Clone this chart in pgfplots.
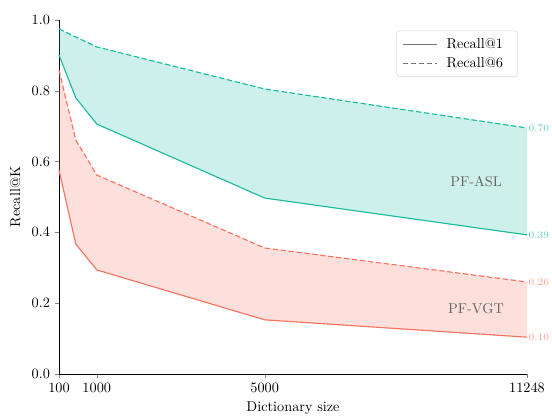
\documentclass[border=0pt]{standalone}
\usepackage{pgfplots}
\pgfplotsset{compat=1.18}
\usepgfplotslibrary{fillbetween}

\definecolor{asl}{RGB}{26,188,160}
\definecolor{vgt}{RGB}{248,114,96}
\definecolor{lbl}{RGB}{100,100,100}

\begin{document}
\begin{tikzpicture}
\begin{axis}[
    name=ax,
    scale only axis,
    width=327.6pt, height=247.8pt,
    xmin=100, xmax=11248,
    ymin=0, ymax=1,
    clip=false,
    axis x line*=bottom, axis y line*=left,
    axis line style={-, line width=0.6pt},
    tick align=outside,
    major tick length=2.8pt,
    xtick={100,1000,5000,11248},
    ytick={0,0.2,0.4,0.6,0.8,1.0},
    scaled x ticks=false,
    x tick label style={/pgf/number format/set thousands separator={}},
    y tick label style={/pgf/number format/.cd, fixed, fixed zerofill, precision=1},
    xlabel={Dictionary size},
    ylabel={Recall@K},
    xlabel style={yshift=0pt},
    ylabel style={yshift=1pt},
    legend style={at={(0.98,0.97)}, anchor=north east, draw=black!15, rounded corners=2pt,
        row sep=1pt, inner xsep=4pt, inner ysep=3pt,
        nodes={inner xsep=6pt}},
    legend cell align=left,
    legend image code/.code={\draw[#1] (0cm,0cm) -- (0.85cm,0cm);},
    mydash/.style={dash pattern=on 3.8pt off 1.8pt},
]
% legend entries
\addlegendimage{black!55, line width=0.8pt}
\addlegendentry{Recall@1}
\addlegendimage{black!55, mydash, line width=0.8pt}
\addlegendentry{Recall@6}

% PF-ASL
\addplot[asl, line width=0.8pt, mydash, name path=asl6, forget plot] coordinates {
    (100,0.975) (500,0.952) (1000,0.924) (5000,0.805) (11248,0.695)};
\addplot[asl, line width=0.8pt, name path=asl1, forget plot] coordinates {
    (100,0.901) (500,0.780) (1000,0.706) (5000,0.497) (11248,0.393)};
\addplot[asl, fill opacity=0.22, draw=none, forget plot] fill between[of=asl6 and asl1];

% PF-VGT
\addplot[vgt, line width=0.8pt, mydash, name path=vgt6, forget plot] coordinates {
    (100,0.859) (500,0.661) (1000,0.562) (5000,0.356) (11248,0.260)};
\addplot[vgt, line width=0.8pt, name path=vgt1, forget plot] coordinates {
    (100,0.576) (500,0.367) (1000,0.294) (5000,0.153) (11248,0.104)};
\addplot[vgt, fill opacity=0.22, draw=none, forget plot] fill between[of=vgt6 and vgt1];

\node[text=lbl] at (axis cs:10033,0.545) {PF-ASL};
\node[text=lbl] at (axis cs:10033,0.186) {PF-VGT};

\node[text=asl!70, font=\scriptsize, anchor=west, inner sep=1pt] at (axis cs:11248,0.695) {0.70};
\node[text=asl!70, font=\scriptsize, anchor=west, inner sep=1pt] at (axis cs:11248,0.393) {0.39};
\node[text=vgt!70, font=\scriptsize, anchor=west, inner sep=1pt] at (axis cs:11248,0.260) {0.26};
\node[text=vgt!70, font=\scriptsize, anchor=west, inner sep=1pt] at (axis cs:11248,0.104) {0.10};
\end{axis}
\pgfresetboundingbox
\path ([shift={(-41.3pt,-28.7pt)}]ax.south west) rectangle ([shift={(17.5pt,14pt)}]ax.north east);
\end{tikzpicture}
\end{document}
